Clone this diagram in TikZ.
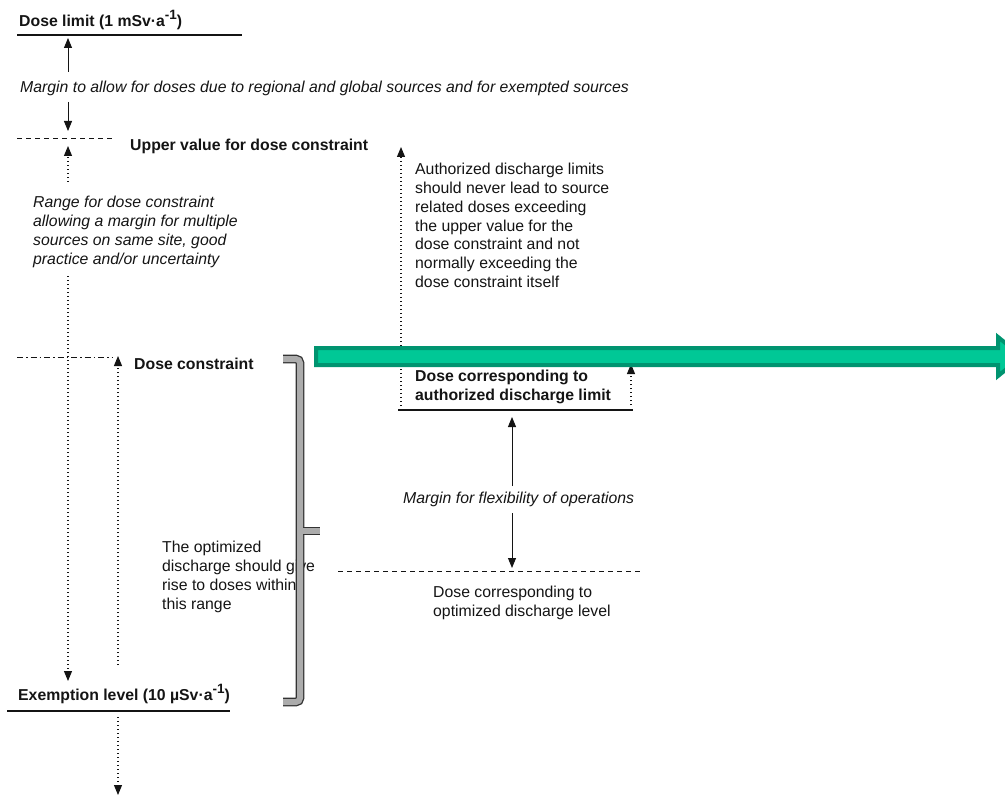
\documentclass[tikz,border=0pt]{standalone}
\usepackage{fontspec}
\setmainfont{Liberation Sans}
\usetikzlibrary{arrows.meta}
\definecolor{dkgreen}{RGB}{0,148,112}
\definecolor{ltgreen}{RGB}{0,200,150}
\definecolor{ink}{RGB}{20,20,20}
\newcommand{\supone}{\raisebox{0.8ex}{\fontsize{13.5}{13.5}\selectfont -1}}
\begin{document}
\begin{tikzpicture}[x=1pt,y=-1pt,
  txt/.style={inner sep=0pt, anchor=west, align=left, text=ink, font=\fontsize{15.8}{18.8}\selectfont},
  bld/.style={txt, font=\fontsize{15.8}{18.8}\selectfont\bfseries},
  itl/.style={txt, font=\fontsize{15.8}{18.8}\selectfont\itshape},
  levelline/.style={draw=ink, line width=2.4pt},
  dashline/.style={draw=ink, line width=1pt, dash pattern=on 5pt off 4pt},
  dashdotline/.style={draw=ink, line width=1pt, dash pattern=on 6pt off 3pt on 1.5pt off 3pt},
  tip/.style={-{Triangle[length=10pt,width=8pt]}},
  solidarrow/.style={draw=ink, line width=0.9pt, tip},
  dotarrow/.style={draw=ink, line width=1.1pt, dash pattern=on 1.2pt off 2.8pt, tip},
  bracket/.style={draw=black!80, line width=1.3pt, double=gray!65, double distance=6pt, rounded corners=4pt},
  bigarrow/.style={draw=dkgreen, fill=ltgreen, line width=4pt, line join=miter}
]
\useasboundingbox (0,0) rectangle (1005,797);

% --- Dose limit
\node[bld] (doselimit) at (19,20) {Dose limit (1 mSv·a\supone)};
\coordinate (dlA) at (17,35); \coordinate (dlB) at (242,35);
\draw[levelline] (dlA) -- (dlB);

\node[itl] (margin1) at (20,88) {Margin to allow for doses due to regional and global sources and for exempted sources};
\coordinate (m1up) at (68,38); \coordinate (m1a) at (68,72);
\coordinate (m1b) at (68,102); \coordinate (m1dn) at (68,131);
\draw[solidarrow] (m1a) -- (m1up);
\draw[solidarrow] (m1b) -- (m1dn);

% --- Upper value
\coordinate (uvA) at (17,139); \coordinate (uvB) at (115,139);
\draw[dashline] (uvA) -- (uvB);
\node[bld] (upper) at (130,146) {Upper value for dose constraint};

\node[itl, anchor=north west] (range) at (33,196) {Range for dose constraint\\allowing a margin for multiple\\sources on same site, good\\practice and/or uncertainty};
\coordinate (rtip) at (68,146); \coordinate (rtail) at (68,182);
\draw[dotarrow] (rtail) -- (rtip);
\coordinate (rb) at (68,276); \coordinate (rbtip) at (68,681);
\draw[dotarrow] (rb) -- (rbtip);

% --- Dose constraint
\coordinate (dcA) at (17,357); \coordinate (dcB) at (112,357);
\draw[dashdotline] (dcA) -- (dcB);
\node[bld] (constraint) at (134,364) {Dose constraint};
\coordinate (dctail) at (118,665); \coordinate (dctip) at (118,356);
\draw[dotarrow] (dctail) -- (dctip);

% --- Optimized text
\node[txt, anchor=north west] (optimized) at (162,541) {The optimized\\discharge should give\\rise to doses within\\this range};

% --- Authorized
\coordinate (autail) at (401,410); \coordinate (autip) at (401,147);
\draw[dotarrow] (autail) -- (autip);
\node[txt, anchor=north west] (authtext) at (415,163) {Authorized discharge limits\\should never lead to source\\related doses exceeding\\the upper value for the\\dose constraint and not\\normally exceeding the\\dose constraint itself};

\node[bld, anchor=north west] (authdose) at (415,370) {Dose corresponding to\\authorized discharge limit};
\coordinate (adA) at (398,410); \coordinate (adB) at (633,410);
\draw[levelline, line width=2pt] (adA) -- (adB);
\coordinate (smtail) at (631,405); \coordinate (smtip) at (631,364);
\draw[dotarrow] (smtail) -- (smtip);

% --- Margin for flexibility
\node[itl] (margin2) at (403,499) {Margin for flexibility of operations};
\coordinate (m2tail) at (512,486); \coordinate (m2tip) at (512,417);
\draw[solidarrow] (m2tail) -- (m2tip);
\coordinate (m2btail) at (512,513); \coordinate (m2btip) at (512,568);
\draw[solidarrow] (m2btail) -- (m2btip);
\coordinate (odA) at (338,571); \coordinate (odB) at (640,571);
\draw[dashline] (odA) -- (odB);
\node[txt, anchor=north west] (optdose) at (433,586) {Dose corresponding to\\optimized discharge level};

% --- Exemption level
\node[bld] (exemption) at (18,694) {Exemption level (10 µSv·a\supone)};
\coordinate (exA) at (7,711); \coordinate (exB) at (230,711);
\draw[levelline] (exA) -- (exB);
\coordinate (extail) at (118,717); \coordinate (extip) at (118,795);
\draw[dotarrow] (extail) -- (extip);

% --- Bracket
\draw[bracket] (283,359) -- (300,359) -- (300,702) -- (283,702);
\draw[bracket, rounded corners=0pt] (303,531) -- (320,531);

% --- Green arrow
\draw[bigarrow] (316,348) -- (998,348) -- (998,337) -- (1022,356.5) -- (998,376) -- (998,365) -- (316,365) -- cycle;
\end{tikzpicture}
\end{document}
